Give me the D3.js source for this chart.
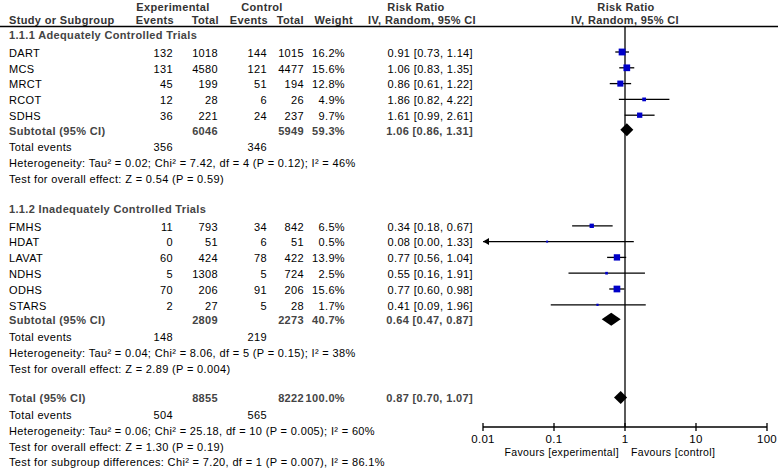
<!DOCTYPE html>
<html><head><meta charset="utf-8">
<script src="https://cdn.jsdelivr.net/npm/d3@7"></script>
<style>
body{margin:0;background:#fff;}
svg{display:block;font-family:Arial,"Liberation Sans",sans-serif;}
</style></head>
<body><svg id="c" width="778" height="468"></svg>
<script>
// ---- data ----
const groupNames = ["1.1.1 Adequately Controlled Trials", "1.1.2 Inadequately Controlled Trials"];
const studies   = ["DART","MCS","MRCT","RCOT","SDHS","FMHS","HDAT","LAVAT","NDHS","ODHS","STARS"];
const studyGroup= [0,0,0,0,0,1,1,1,1,1,1];
const expEvents = [132,131,45,12,36,11,0,60,5,70,2];
const expTotal  = [1018,4580,199,28,221,793,51,424,1308,206,27];
const ctrlEvents= [144,121,51,6,24,34,6,78,5,91,5];
const ctrlTotal = [1015,4477,194,26,237,842,51,422,724,206,28];
const weights   = [16.2,15.6,12.8,4.9,9.7,6.5,0.5,13.9,2.5,15.6,1.7];
const rr        = [0.91,1.06,0.86,1.86,1.61,0.34,0.08,0.77,0.55,0.77,0.41];
const rrLo      = [0.73,0.83,0.61,0.82,0.99,0.18,0.00,0.56,0.16,0.60,0.09];
const rrHi      = [1.14,1.35,1.22,4.22,2.61,0.67,1.33,1.04,1.91,0.98,1.96];

const subExpTotal  = [6046,2809];
const subCtrlTotal = [5949,2273];
const subWeight    = [59.3,40.7];
const subRR        = [1.06,0.64];
const subLo        = [0.86,0.47];
const subHi        = [1.31,0.87];
const subExpEvents = [356,148];
const subCtrlEvents= [346,219];
const subHet = ["Heterogeneity: Tau² = 0.02; Chi² = 7.42, df = 4 (P = 0.12); I² = 46%",
                "Heterogeneity: Tau² = 0.04; Chi² = 8.06, df = 5 (P = 0.15); I² = 38%"];
const subTest = ["Test for overall effect: Z = 0.54 (P = 0.59)",
                 "Test for overall effect: Z = 2.89 (P = 0.004)"];

const totExpTotal = 8855, totCtrlTotal = 8222, totWeight = 100.0;
const totRR = 0.87, totLo = 0.70, totHi = 1.07;
const totExpEvents = 504, totCtrlEvents = 565;
const totHet = "Heterogeneity: Tau² = 0.06; Chi² = 25.18, df = 10 (P = 0.005); I² = 60%";
const totTest = "Test for overall effect: Z = 1.30 (P = 0.19)";
const subgroupDiff = "Test for subgroup differences: Chi² = 7.20, df = 1 (P = 0.007), I² = 86.1%";

const axisTicks = [0.01, 0.1, 1, 10, 100];
const tickLabels = ["0.01","0.1","1","10","100"];
const favoursLeft = "Favours [experimental]", favoursRight = "Favours [control]";

// ---- build rows ----
const rows = [];
groupNames.forEach((g, gi) => {
  rows.push({type:"group", label:g});
  studies.forEach((s, i) => {
    if (studyGroup[i] !== gi) return;
    rows.push({type:"study", label:s, ee:expEvents[i], et:expTotal[i], ce:ctrlEvents[i], ct:ctrlTotal[i],
               w:weights[i], rr:rr[i], lo:rrLo[i], hi:rrHi[i]});
  });
  rows.push({type:"subtotal", label:"Subtotal (95% CI)", et:subExpTotal[gi], ct:subCtrlTotal[gi], w:subWeight[gi],
             rr:subRR[gi], lo:subLo[gi], hi:subHi[gi]});
  rows.push({type:"events", label:"Total events", ee:subExpEvents[gi], ce:subCtrlEvents[gi]});
  rows.push({type:"het", label:subHet[gi]});
  rows.push({type:"test", label:subTest[gi]});
});
rows.push({type:"total", label:"Total (95% CI)", et:totExpTotal, ct:totCtrlTotal, w:totWeight, rr:totRR, lo:totLo, hi:totHi});
rows.push({type:"events", label:"Total events", ee:totExpEvents, ce:totCtrlEvents});
rows.push({type:"het", label:totHet});
rows.push({type:"test", label:totTest});
rows.push({type:"diff", label:subgroupDiff});

// vertical layout
let y = 35, prev = null;
rows.forEach(r => {
  if (prev) {
    let gap = 15.8;
    if (r.type === "group" || r.type === "total") gap = 29.5;
    else if (r.type === "study" && prev.type === "group") gap = 18;
    else if (r.type === "subtotal") gap = 14.5;
    else if (r.type === "events") gap = 16.8;
    else if (r.type === "het") gap = 16;
    else if (r.type === "diff") gap = 15;
    y += gap;
  }
  r.y = y; prev = r;
});

// ---- drawing ----
const svg = d3.select("#c");
const x = d3.scaleLog().domain([0.01, 100]).range([483, 767]);
const fmt2 = d3.format(".2f");
const fs = 11;
const boldCol = "#333";

function txt(xp, yp, s, anchor, bold, col, size) {
  svg.append("text").attr("x", xp).attr("y", yp).attr("dy", "0.35em")
    .attr("text-anchor", anchor || "start")
    .attr("font-size", size || fs)
    .attr("letter-spacing", "0.35px")
    .attr("font-weight", bold ? "bold" : "normal")
    .attr("fill", col || "#000").text(s);
}

const L = 9;
const cEE = 173, cET = 218, cCE = 267, cCT = 304, cW = 345, cRR = 473;

// headers
txt(173, 7, "Experimental", "middle", true, boldCol);
txt(262, 7, "Control", "middle", true, boldCol);
txt(416, 7, "Risk Ratio", "middle", true, boldCol);
txt(626, 7, "Risk Ratio", "middle", true, boldCol);
txt(L, 20, "Study or Subgroup", "start", true, boldCol);
txt(cEE + 1, 20, "Events", "end", true, boldCol);
txt(cET + 1, 20, "Total", "end", true, boldCol);
txt(cCE + 1, 20, "Events", "end", true, boldCol);
txt(cCT, 20, "Total", "end", true, boldCol);
txt(cW + 8, 20, "Weight", "end", true, boldCol);
txt(422, 20, "IV, Random, 95% CI", "middle", true, boldCol);
txt(625, 20, "IV, Random, 95% CI", "middle", true, boldCol);

svg.append("line").attr("x1", 0).attr("x2", 778).attr("y1", 26.5).attr("y2", 26.5)
  .attr("stroke", "#000").attr("stroke-width", 1.6);

// null line
const axisY = 427;
svg.append("line").attr("x1", x(1)).attr("x2", x(1)).attr("y1", 26.5).attr("y2", axisY)
  .attr("stroke", "#000").attr("stroke-width", 1.3);

const rrStr = r => `${fmt2(r.rr)} [${fmt2(r.lo)}, ${fmt2(r.hi)}]`;

rows.forEach(r => {
  const yy = r.y;
  if (r.type === "group") {
    txt(L, yy, r.label, "start", true, "#444");
  } else if (r.type === "study") {
    txt(L, yy, r.label);
    txt(cEE, yy, r.ee, "end");
    txt(cET, yy, r.et, "end");
    txt(cCE, yy, r.ce, "end");
    txt(cCT, yy, r.ct, "end");
    txt(cW, yy, r.w.toFixed(1) + "%", "end");
    txt(cRR, yy, rrStr(r), "end");
    const cy = yy - 1;
    const loX = r.lo > 0 ? Math.max(x(r.lo), x.range()[0]) : x.range()[0];
    const hiX = Math.min(x(r.hi), x.range()[1]);
    svg.append("line").attr("x1", loX).attr("x2", hiX).attr("y1", cy).attr("y2", cy)
      .attr("stroke", "#000").attr("stroke-width", 1.3);
    if (r.lo <= 0 || x(r.lo) < x.range()[0]) {
      svg.append("path")
        .attr("d", `M${loX},${cy} L${loX + 6},${cy - 3.5} L${loX + 6},${cy + 3.5} Z`)
        .attr("fill", "#000");
    }
    const s = Math.max(2, 1.7 * Math.sqrt(r.w));
    svg.append("rect").attr("x", x(r.rr) - s / 2).attr("y", cy - s / 2)
      .attr("width", s).attr("height", s).attr("fill", "#0000c8");
  } else if (r.type === "subtotal" || r.type === "total") {
    txt(L, yy, r.label, "start", true, "#444");
    txt(cET, yy, r.et, "end", true, "#444");
    txt(cCT, yy, r.ct, "end", true, "#444");
    txt(cW, yy, r.w.toFixed(1) + "%", "end", true, "#444");
    txt(cRR, yy, rrStr(r), "end", true, "#444");
    const cy = yy - 1, h = 6.5;
    svg.append("path")
      .attr("d", `M${x(r.lo)},${cy} L${x(r.rr)},${cy - h} L${x(r.hi)},${cy} L${x(r.rr)},${cy + h} Z`)
      .attr("fill", "#000");
  } else if (r.type === "events") {
    txt(L, yy, r.label);
    txt(cEE, yy, r.ee, "end");
    txt(cCE, yy, r.ce, "end");
  } else {
    txt(L, yy, r.label);
  }
});

// axis
const axisG = svg.append("g").attr("transform", `translate(0,${axisY})`);
axisG.append("line").attr("x1", x.range()[0]).attr("x2", x.range()[1]).attr("y1", 0).attr("y2", 0)
  .attr("stroke", "#000").attr("stroke-width", 1.3);
axisTicks.forEach((t, i) => {
  axisG.append("line").attr("x1", x(t)).attr("x2", x(t)).attr("y1", -4).attr("y2", 4)
    .attr("stroke", "#000").attr("stroke-width", 1.3);
  axisG.append("text").attr("x", x(t)).attr("y", 12).attr("dy", "0.35em")
    .attr("text-anchor", "middle").attr("font-size", 11.5).attr("letter-spacing", "0.3px")
    .text(tickLabels[i]);
});
txt(x(1) - 6, 452, favoursLeft, "end", false, "#000", 10.5);
txt(x(1) + 6, 452, favoursRight, "start", false, "#000", 10.5);
</script></body></html>
